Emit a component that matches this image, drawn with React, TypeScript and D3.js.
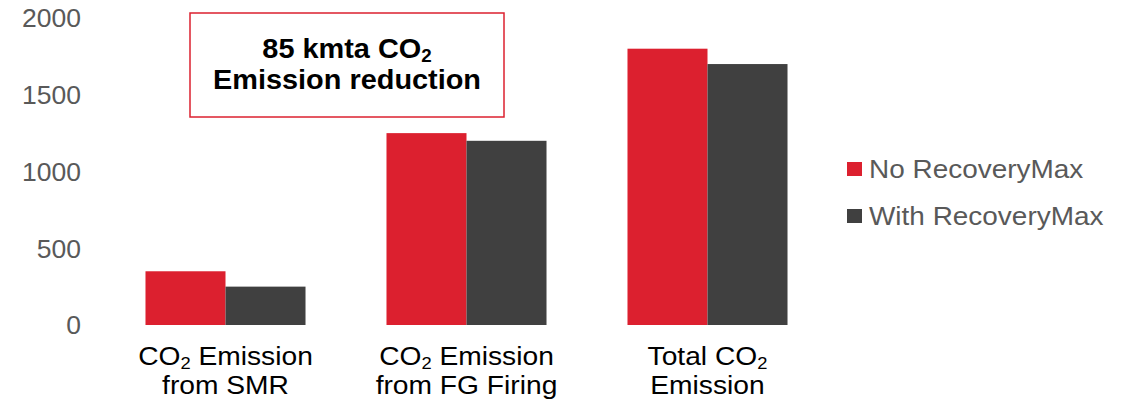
import React from "react";
import * as d3 from "d3";

const categories = ["smr", "fg", "total"];
const categoryLines: string[][][] = [
  [["CO", "2", " Emission"], ["from SMR"]],
  [["CO", "2", " Emission"], ["from FG Firing"]],
  [["Total CO", "2"], ["Emission"]],
];
const seriesNames = ["No RecoveryMax", "With RecoveryMax"];
const noRecovery = [350, 1250, 1800];
const withRecovery = [250, 1200, 1700];
const yTicks = [0, 500, 1000, 1500, 2000];
const colors = ["#DC202F", "#404040"];

const W = 1127;
const H = 401;

function Sub({ parts }: { parts: string[] }) {
  return (
    <>
      {parts.map((p, i) =>
        i % 2 === 1 ? (
          <tspan key={i} fontSize="0.65em" dy="0.22em">
            {p}
          </tspan>
        ) : (
          <tspan key={i} dy={i > 0 ? "-0.143em" : undefined}>
            {p}
          </tspan>
        )
      )}
    </>
  );
}

export default function App() {
  const y = d3.scaleLinear().domain([0, 2000]).range([325, 18]);
  const x0 = d3
    .scaleBand<string>()
    .domain(categories)
    .range([105, 828])
    .paddingInner(0.336)
    .paddingOuter(0.168);
  const x1 = d3
    .scaleBand<string>()
    .domain(seriesNames)
    .range([0, x0.bandwidth()])
    .padding(0);
  const data = [noRecovery, withRecovery];
  const font = "Liberation Sans, Arial, sans-serif";

  return (
    <svg
      width={W}
      height={H}
      style={{ position: "absolute", left: 0, top: 0, fontFamily: font }}
    >
      <rect width={W} height={H} fill="#fff" />
      {yTicks.map((t) => (
        <text
          key={t}
          transform={`translate(81,${y(t)}) scale(1.02,1)`}
          dy="0.36em"
          textAnchor="end"
          fontSize={26}
          fill="#595959"
        >
          {t}
        </text>
      ))}
      {seriesNames.map((s, si) =>
        categories.map((c, ci) => {
          const v = data[si][ci];
          return (
            <rect
              key={s + c}
              x={(x0(c) ?? 0) + (x1(s) ?? 0)}
              y={y(v)}
              width={x1.bandwidth()}
              height={y(0) - y(v)}
              fill={colors[si]}
            />
          );
        })
      )}
      {categories.map((c, ci) => {
        const cx = (x0(c) ?? 0) + x0.bandwidth() / 2;
        return categoryLines[ci].map((line, li) => (
          <text
            key={c + li}
            transform={`translate(${cx},${365 + li * 29}) scale(1.085,1)`}
            textAnchor="middle"
            fontSize={26}
            fill="#000"
          >
            <Sub parts={line} />
          </text>
        ));
      })}
      <rect x={190} y={13} width={314} height={104} fill="#fff" stroke="#DC202F" strokeWidth={1.5} />
      <text
        transform={`translate(347,58) scale(1.07,1)`}
        textAnchor="middle"
        fontSize={27}
        fontWeight="bold"
        fill="#000"
      >
        <Sub parts={["85 kmta CO", "2"]} />
      </text>
      <text
        transform={`translate(347,89) scale(1.07,1)`}
        textAnchor="middle"
        fontSize={27}
        fontWeight="bold"
        fill="#000"
      >
        Emission reduction
      </text>
      {seriesNames.map((s, i) => (
        <g key={s} transform={`translate(847,${162 + i * 47})`}>
          <rect width={15} height={14} fill={colors[i]} />
          <text
            transform={`translate(22,16) scale(1.075,1)`}
            fontSize={26}
            fill="#595959"
          >
            {s}
          </text>
        </g>
      ))}
    </svg>
  );
}
